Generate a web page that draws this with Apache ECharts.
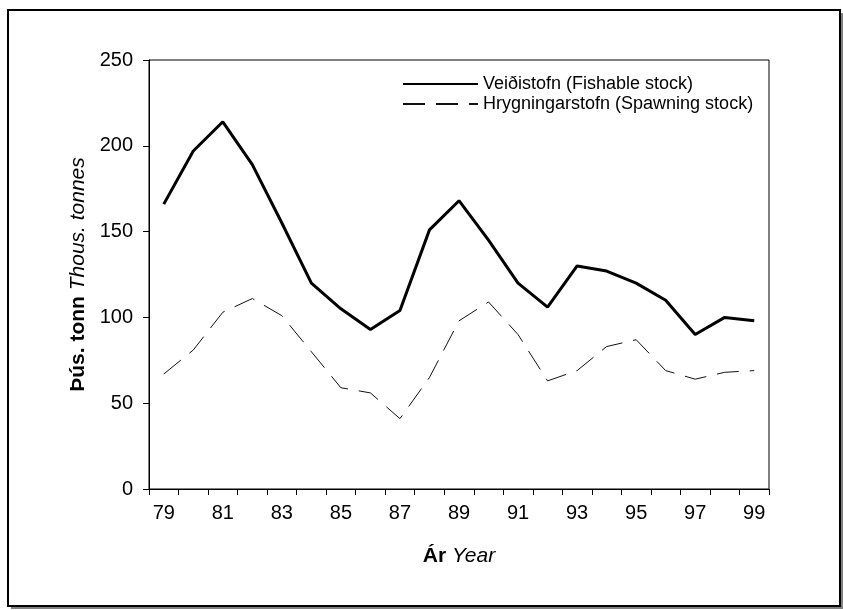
<!DOCTYPE html>
<html>
<head>
<meta charset="utf-8">
<script src="https://cdn.jsdelivr.net/npm/echarts@6/dist/echarts.min.js"></script>
<style>
html,body{margin:0;padding:0;background:#fff;}
#main{width:843px;height:610px;}
</style>
</head>
<body>
<div id="main"></div>
<script>
const years = ['79','80','81','82','83','84','85','86','87','88','89','90','91','92','93','94','95','96','97','98','99'];
const fishable = [166,197,214,189,155,120,105,93,104,151,168,145,120,106,130,127,120,110,90,100,98];
const spawning = [67,81,103,111,101,80,59,56,41,65,98,109,90,63,69,83,87,69,64,68,69];
const yTicks = {min:0, max:250, interval:50};
const nameFishable = 'Veiðistofn (Fishable stock)';
const nameSpawning = 'Hrygningarstofn (Spawning stock)';

const FONT = '"Liberation Sans", Arial, sans-serif';
const chart = echarts.init(document.getElementById('main'), null, {renderer:'canvas'});
chart.setOption({
  backgroundColor: '#fff',
  animation: false,
  graphic: [
    {type:'rect', z:-100, shape:{x:11,y:13,width:832,height:596}, style:{fill:'#808080'}},
    {type:'rect', z:-99, shape:{x:8,y:10,width:832,height:596}, style:{fill:'#fff', stroke:'#000', lineWidth:2}}
  ],
  grid: {left:149, top:60, right:74, bottom:121, show:true, borderColor:'#000', borderWidth:1, backgroundColor:'transparent'},
  legend: {
    orient:'vertical', left:397, top:70, itemWidth:75, itemHeight:12, itemGap:2,
    itemStyle:{opacity:0},
    textStyle:{fontFamily:FONT, fontSize:18, color:'#000', lineHeight:18},
    data:[nameFishable, nameSpawning]
  },
  xAxis: {
    type:'category', data: years, boundaryGap:true,
    axisLine:{lineStyle:{color:'#000', width:1}},
    axisTick:{show:true, interval:0, length:6, lineStyle:{color:'#000'}},
    axisLabel:{interval:1, fontFamily:FONT, fontSize:20, color:'#000', margin:14},
    name:'{b|Ár} {i|Year}', nameLocation:'middle', nameGap:57,
    nameTextStyle:{fontFamily:FONT, fontSize:21, color:'#000',
      rich:{b:{fontWeight:'bold', fontFamily:FONT, fontSize:21, color:'#000'}, i:{fontStyle:'italic', fontFamily:FONT, fontSize:21, color:'#000'}}}
  },
  yAxis: {
    type:'value', min:yTicks.min, max:yTicks.max, interval:yTicks.interval,
    axisLine:{show:true, lineStyle:{color:'#000', width:1}},
    axisTick:{show:true, length:6, lineStyle:{color:'#000'}},
    splitLine:{show:false},
    axisLabel:{fontFamily:FONT, fontSize:20, color:'#000', margin:16},
    name:'{b|Þús. tonn} {i|Thous. tonnes}', nameLocation:'middle', nameRotate:90, nameGap:58,
    nameTextStyle:{fontFamily:FONT, fontSize:21, color:'#000',
      rich:{b:{fontWeight:'bold', fontFamily:FONT, fontSize:21, color:'#000'}, i:{fontStyle:'italic', fontFamily:FONT, fontSize:21, color:'#000'}}}
  },
  series: [
    {name:nameFishable, type:'line', data:fishable, symbol:'none', smooth:false,
     lineStyle:{color:'#000', width:3}, itemStyle:{color:'#000'}},
    {name:nameSpawning, type:'line', data:spawning, symbol:'none', smooth:false,
     lineStyle:{color:'#111', width:1, type:[22,11]}, itemStyle:{color:'#111'}}
  ]
});
</script>
</body>
</html>
